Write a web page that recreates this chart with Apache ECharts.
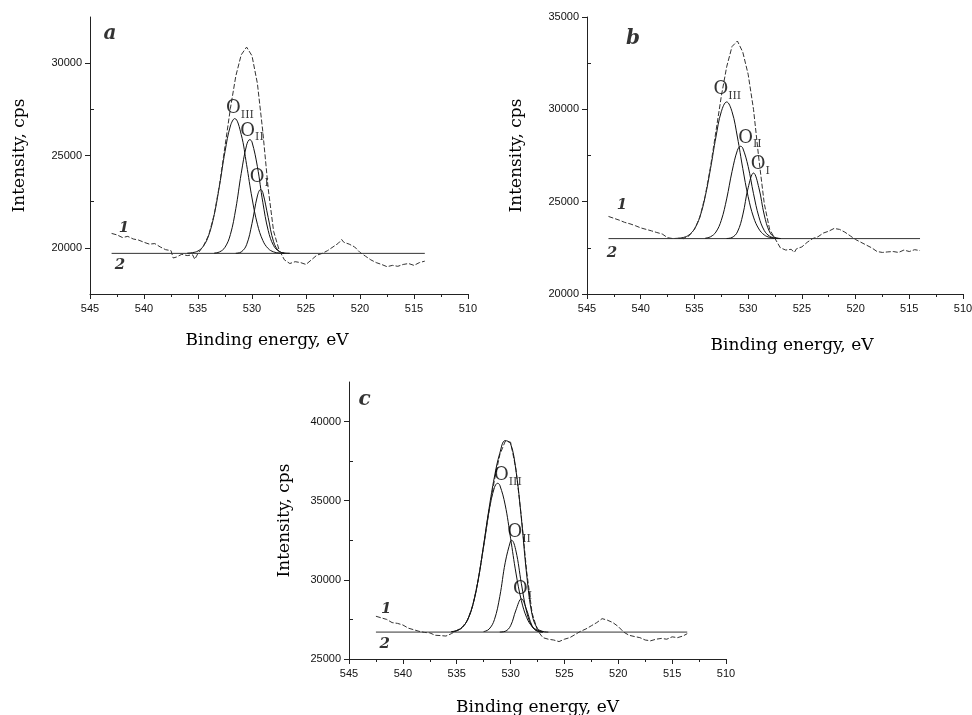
<!DOCTYPE html>
<html>
<head>
<meta charset="utf-8">
<script src="https://cdn.jsdelivr.net/npm/echarts@6/dist/echarts.min.js"></script>
<style>
html, body { margin: 0; padding: 0; background: #fff; }
#chart { width: 972px; height: 715px; }
</style>
</head>
<body>
<div id="chart"></div>
<script>
// ---- panel a ----
var expA = [[543,20780],[542.5,20700],[542,20560],[541.5,20620],[541,20480],[540.5,20420],[540,20300],[539.5,20200],[539,20230],[538.5,20050],[538,19900],[537.5,19850],[537.3,19450],[537,19500],[536.5,19650],[536,19580],[535.5,19620],[535.3,19380],[535,19700],[534.5,20100],[534,20700],[533.5,21800],[533,23450],[532.5,25500],[532,27550],[531.5,29300],[531,30450],[530.5,30870],[530,30400],[529.5,28900],[529,26300],[528.5,23200],[528,20900],[527.5,19900],[527,19350],[526.5,19150],[526,19250],[525.5,19200],[525,19100],[524.5,19350],[524,19600],[523.5,19700],[523,19850],[522.5,20050],[522,20250],[521.7,20450],[521.5,20300],[521,20200],[520.5,20050],[520,19750],[519.5,19550],[519,19350],[518.5,19200],[518,19100],[517.5,18980],[517,19050],[516.5,19000],[516,19100],[515.5,19150],[515,19050],[514.5,19200],[514,19280]];
var baseA = [[543,19700],[514,19700]];
var o3A = [[536,19710],[535.5,19740],[535,19830],[534.5,20090],[534,20690],[533.5,21790],[533,23400],[532.5,25210],[532,26600],[531.6,27000],[531,26140],[530.5,24500],[530,22700],[529.5,21280],[529,20400],[528.5,19960],[528,19780],[527.5,19720],[527,19705]];
var o2A = [[533.5,19715],[533,19780],[532.5,20030],[532,20720],[531.5,22120],[531,24020],[530.5,25560],[530.2,25860],[530,25730],[529.5,24400],[529,22470],[528.5,20940],[528,20120],[527.5,19810],[527,19720],[526.5,19705]];
var o1A = [[531.5,19707],[531,19775],[530.5,20170],[530,21320],[529.5,22810],[529.2,23160],[529,23000],[528.5,21640],[528,20330],[527.5,19810],[527,19710]];
var notesA = [[531.11,27540,'O3'],[530.0,26330,'O2'],[529.32,23840,'O1'],[541.85,21085,'1'],[542.22,19067,'2'],[543.15,31590,'a']];

// ---- panel b ----
var expB = [[543,24200],[542.5,24100],[542,24000],[541.5,23880],[541,23800],[540.5,23700],[540,23580],[539.5,23500],[539,23420],[538.5,23330],[538,23250],[537.5,23050],[537,23000],[536.5,23020],[536,23000],[535.5,23150],[535,23500],[534.5,24150],[534,25300],[533.5,26900],[533,28800],[532.5,30700],[532,32300],[531.5,33400],[531,33700],[530.5,33100],[530,31900],[529.5,30000],[529,27300],[528.5,24900],[528,23500],[527.5,23000],[527,22500],[526.5,22380],[526,22420],[525.7,22250],[525.5,22450],[525,22550],[524.5,22800],[524,23000],[523.5,23100],[523,23300],[522.5,23400],[522,23550],[521.5,23500],[521,23350],[520.5,23150],[520,22950],[519.5,22800],[519,22650],[518.5,22500],[518,22300],[517.5,22250],[517,22280],[516.5,22300],[516,22250],[515.5,22380],[515,22300],[514.5,22400],[514,22350]];
var baseB = [[543,23000],[514,23000]];
var o3B = [[536.5,23020],[536,23065],[535.5,23200],[535,23520],[534.5,24165],[534,25270],[533.5,26800],[533,28500],[532.5,29870],[532,30400],[531.5,29870],[531,28500],[530.5,26800],[530,25270],[529.5,24165],[529,23520],[528.5,23200],[528,23065],[527.5,23020],[527,23005]];
var o2B = [[534,23020],[533.5,23100],[533,23355],[532.5,23990],[532,25150],[531.5,26630],[531,27780],[530.7,28000],[530.5,27900],[530,26910],[529.5,25430],[529,24180],[528.5,23440],[528,23130],[527.5,23030],[527,23005]];
var o1B = [[532,23006],[531.5,23060],[531,23360],[530.5,24280],[530,25750],[529.5,26550],[529,25750],[528.5,24280],[528,23360],[527.5,23060],[527,23006]];
var notesB = [[531.94,31065,'O3'],[529.83,28447,'O2'],[528.87,27003,'O1'],[541.75,24837,'1'],[542.68,22220,'2'],[540.73,33808,'b']];

// ---- panel c ----
var expC = [[542.5,27700],[542,27600],[541.5,27500],[541,27300],[540.5,27250],[540,27150],[539.5,26950],[539,26850],[538.5,26750],[538,26680],[537.5,26650],[537,26500],[536.5,26480],[536,26450],[535.5,26600],[535,26800],[534.5,27000],[534,27450],[533.5,28400],[533,30000],[532.5,32100],[532,34300],[531.5,36300],[531,37900],[530.5,38750],[530,38700],[529.5,37000],[529,34000],[528.5,30500],[528,27900],[527.5,26800],[527,26350],[526.5,26250],[526,26200],[525.5,26100],[525,26250],[524.5,26350],[524,26550],[523.5,26750],[523,26900],[522.5,27100],[522,27300],[521.5,27550],[521,27450],[520.5,27300],[520,27050],[519.5,26700],[519,26500],[518.5,26420],[518,26350],[517.5,26200],[517,26150],[516.5,26250],[516,26300],[515.5,26250],[515,26400],[514.5,26350],[514,26450],[513.6,26600]];
var sumC = [[535.5,26725],[535,26790],[534.5,26990],[534,27470],[533.5,28430],[533,30030],[532.5,32200],[532,34500],[531.5,36500],[531,38000],[530.5,38800],[530,38600],[529.5,36900],[529,33900],[528.5,30300],[528,27800],[527.5,26930],[527,26740],[526.5,26700]];
var baseC = [[542.5,26700],[513.6,26700]];
var o3C = [[535.5,26725],[535,26790],[534.5,26990],[534,27465],[533.5,28430],[533,30030],[532.5,32170],[532,34360],[531.5,35830],[531.2,36100],[531,35980],[530.5,34735],[530,32630],[529.5,30430],[529,28700],[528.5,27610],[528,27050],[527.5,26820],[527,26730]];
var o2C = [[532.5,26730],[532,26885],[531.5,27485],[531,28950],[530.5,31080],[530,32455],[529.9,32500],[529.5,31820],[529,29780],[528.5,27955],[528,27045],[527.5,26765],[527,26708]];
var o1C = [[531,26703],[530.5,26750],[530,27100],[529.5,28090],[529,28800],[528.5,28090],[528,27100],[527.5,26750],[527,26703]];
var notesC = [[530.25,36593,'O3'],[529.2,32974,'O2'],[528.89,29376,'O1'],[541.54,28177,'1'],[541.69,25926,'2'],[543.55,41370,'c']];

var yTicksA = [20000, 25000, 30000];
var yTicksB = [20000, 25000, 30000, 35000];
var yTicksC = [25000, 30000, 35000, 40000];

var SERIF = 'DejaVu Serif';
var SANS = 'Liberation Sans, Arial, sans-serif';

var myChart = echarts.init(document.getElementById('chart'));

function noteText(k) {
	if (k === 'O3') return '{o|O}{s|III}';
	if (k === 'O2') return '{o|O}{s|II}';
	if (k === 'O1') return '{o|O}{s|I}';
	if (k === '1' || k === '2') return '{n|' + k + '}';
	return '{p|' + k + '}';
}

function xAxisFor(i, nameGap, pad) {
	return {
		gridIndex: i, type: 'value', min: 510, max: 545, interval: 5, inverse: true,
		name: 'Binding energy, eV', nameLocation: 'middle', nameGap: nameGap,
		nameTextStyle: { fontFamily: SERIF, fontSize: 17, color: '#000', padding: pad },
		axisLine: { lineStyle: { color: '#222', width: 1 } },
		axisTick: { length: 5, lineStyle: { color: '#222' } },
		minorTick: { show: true, splitNumber: 2, length: 3, lineStyle: { color: '#222' } },
		axisLabel: { fontFamily: SANS, fontSize: 11, color: '#111', margin: 9 },
		splitLine: { show: false }
	};
}

function yAxisFor(i, min, max, ticks, nameGap) {
	return {
		gridIndex: i, type: 'value', min: min, max: max, splitNumber: 3,
		name: 'Intensity, cps', nameLocation: 'middle', nameGap: nameGap,
		nameTextStyle: { fontFamily: SERIF, fontSize: 17, color: '#000' },
		axisLine: { show: true, lineStyle: { color: '#222', width: 1 } },
		axisTick: { show: true, length: 5, customValues: ticks, lineStyle: { color: '#222' } },
		minorTick: { show: true, splitNumber: 2, length: -4, lineStyle: { color: '#222' } },
		axisLabel: {
			fontFamily: SANS, fontSize: 11, color: '#111', margin: 8, customValues: ticks,
			formatter: function (v) { return String(v); }
		},
		splitLine: { show: false }
	};
}

function lineSeries(i, data, style, smooth) {
	return {
		type: 'line', xAxisIndex: i, yAxisIndex: i, data: data,
		showSymbol: false, symbol: 'none', smooth: smooth, silent: true,
		lineStyle: style, animation: false
	};
}

var dashStyle = { color: '#333', width: 1, type: [5, 2] };
var solidStyle = { color: '#111', width: 1 };
var baseStyle = { color: '#333', width: 1 };

var richNotes = {
	o: { fontFamily: SERIF, fontSize: 18, color: '#000', lineHeight: 24 },
	s: { fontFamily: SERIF, fontSize: 11, color: '#000', lineHeight: 13, verticalAlign: 'bottom' },
	n: { fontFamily: SERIF, fontSize: 15, fontWeight: 'bold', fontStyle: 'italic', color: '#000' },
	p: { fontFamily: SERIF, fontSize: 20, fontWeight: 'bold', fontStyle: 'italic', color: '#000' }
};

function noteSeries(i, notes) {
	return {
		type: 'scatter', xAxisIndex: i, yAxisIndex: i, data: notes,
		symbolSize: 1, itemStyle: { color: 'rgba(0,0,0,0)' }, silent: true, z: 10,
		label: {
			show: true, position: 'inside',
			formatter: function (p) { return noteText(p.data[2]); },
			rich: richNotes
		},
		animation: false
	};
}

var option = {
	backgroundColor: '#fff',
	animation: false,
	grid: [
		{ left: 90, top: 17, width: 378, height: 277, outerBoundsMode: 'none' },
		{ left: 587, top: 17, width: 376, height: 277, outerBoundsMode: 'none' },
		{ left: 349, top: 382, width: 377, height: 277, outerBoundsMode: 'none' }
	],
	xAxis: [
		xAxisFor(0, 38, [0, 24, 0, 0]),
		xAxisFor(1, 43, [0, 0, 0, 34]),
		xAxisFor(2, 40, [0, 0, 0, 0])
	],
	yAxis: [
		yAxisFor(0, 17500, 32500, yTicksA, 62),
		yAxisFor(1, 20000, 35000, yTicksB, 62),
		yAxisFor(2, 25000, 42500, yTicksC, 56)
	],
	series: [
		lineSeries(0, baseA, baseStyle, false),
		lineSeries(0, o3A, solidStyle, 0.4),
		lineSeries(0, o2A, solidStyle, 0.4),
		lineSeries(0, o1A, solidStyle, 0.4),
		lineSeries(0, expA, dashStyle, false),
		noteSeries(0, notesA),

		lineSeries(1, baseB, baseStyle, false),
		lineSeries(1, o3B, solidStyle, 0.4),
		lineSeries(1, o2B, solidStyle, 0.4),
		lineSeries(1, o1B, solidStyle, 0.4),
		lineSeries(1, expB, dashStyle, false),
		noteSeries(1, notesB),

		lineSeries(2, baseC, baseStyle, false),
		lineSeries(2, o3C, solidStyle, 0.4),
		lineSeries(2, o2C, solidStyle, 0.4),
		lineSeries(2, o1C, solidStyle, 0.4),
		lineSeries(2, expC, dashStyle, false),
		lineSeries(2, sumC, solidStyle, 0.4),
		noteSeries(2, notesC)
	]
};
myChart.setOption(option);
</script>
</body>
</html>
